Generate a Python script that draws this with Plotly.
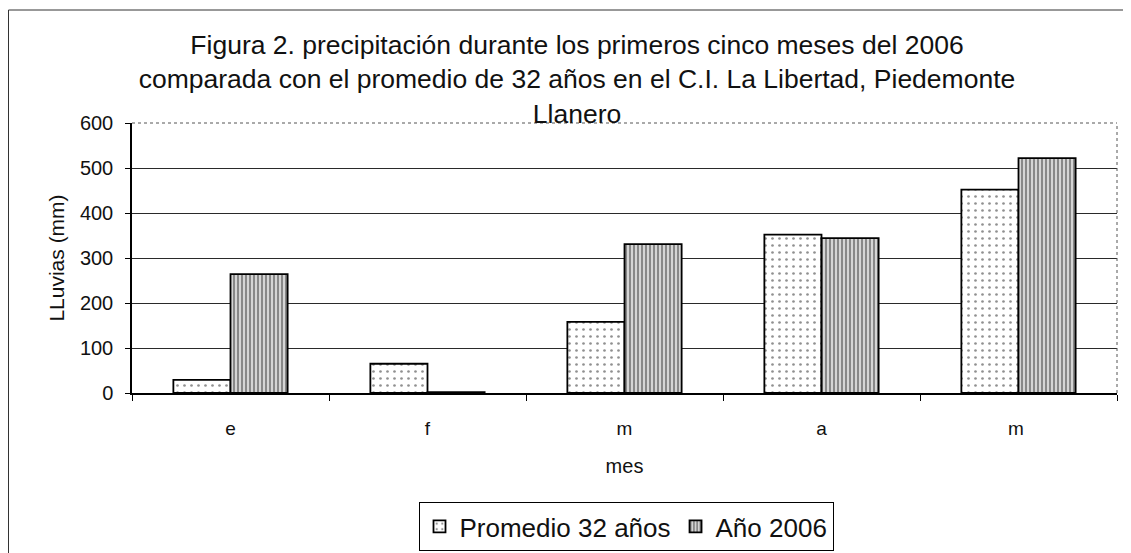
import plotly.graph_objects as go

meses = ["e", "f", "m", "a", "m "]
promedio_32 = [29, 65, 158, 352, 452]
anio_2006 = [264, 2, 331, 344, 522]
y_ticks = [0, 100, 200, 300, 400, 500, 600]

titulo = ("Figura 2. precipitación durante los primeros cinco meses del 2006<br>"
          "comparada con el promedio de 32 años en el C.I. La Libertad, Piedemonte<br>"
          "Llanero")

FONT = "Liberation Sans, Arial, sans-serif"
W, H = 1123, 545          # page adds an 8px body margin
L, R, T, B = 124, 14, 115, 160
PW, PH = W - L - R, H - T - B

def px(xf):  # figure pixel -> paper x
    return (xf - L) / PW

def py(yf):  # figure pixel -> paper y
    return (H - B - yf) / PH

fig = go.Figure()
fig.add_trace(go.Bar(
    x=meses, y=promedio_32, name="Promedio 32 años",
    marker=dict(color="white", line=dict(color="black", width=1.8),
                pattern=dict(shape=".", fgcolor="#222", bgcolor="white", size=7, solidity=0.12)),
))
fig.add_trace(go.Bar(
    x=meses, y=anio_2006, name="Año 2006",
    marker=dict(color="white", line=dict(color="black", width=1.8),
                pattern=dict(shape="|", fgcolor="#111", bgcolor="white", size=4, solidity=0.68)),
))

fig.update_layout(
    width=W, height=H,
    margin=dict(l=L, r=R, t=T, b=B, autoexpand=False),
    paper_bgcolor="white", plot_bgcolor="white",
    font=dict(family=FONT, color="#111", size=20),
    barmode="group", bargap=0.42, bargroupgap=0,
    title=dict(text=titulo, x=569 / W, xref="container", xanchor="center",
               y=1 - 46 / H, yref="container", yanchor="top",
               font=dict(family=FONT, size=26.5, color="#111")),
    showlegend=True,
    legend=dict(orientation="h", x=px(618), xanchor="center", y=py(494), yanchor="top",
                bordercolor="black", borderwidth=1, font=dict(size=26, family=FONT),
                itemwidth=30, tracegroupgap=0),
    xaxis=dict(type="category", showline=True, linecolor="black", linewidth=1.5,
               mirror=False, ticks="outside", tickson="boundaries", ticklen=6,
               tickcolor="black", showgrid=False, ticklabelstandoff=17,
               tickfont=dict(size=19),
               title=dict(text="mes", font=dict(size=20), standoff=21)),
    yaxis=dict(range=[0, 600], tickvals=y_ticks, showline=True, linecolor="black",
               linewidth=1.5, ticks="outside", ticklen=5, tickcolor="black",
               showgrid=True, gridcolor="#2a2a2a", gridwidth=1, zeroline=False,
               tickfont=dict(size=20), ticklabelstandoff=8,
               title=dict(text="LLuvias (mm)", font=dict(size=21), standoff=10)),
)

# plot-area right border and top border
fig.add_shape(type="line", xref="paper", yref="paper", x0=1, x1=1, y0=0, y1=1,
              line=dict(color="#555", width=1, dash="dot"))
fig.add_shape(type="line", xref="paper", yref="paper", x0=0, x1=1, y0=1, y1=1,
              line=dict(color="#555", width=1, dash="dot"))
# outer frame of the chart
fig.add_shape(type="rect", xref="paper", yref="paper",
              x0=px(0.5), x1=px(1121), y0=py(H + 10), y1=py(2),
              line=dict(color="#333", width=1), fillcolor="rgba(0,0,0,0)", layer="below")

fig.write_html("out.html")
